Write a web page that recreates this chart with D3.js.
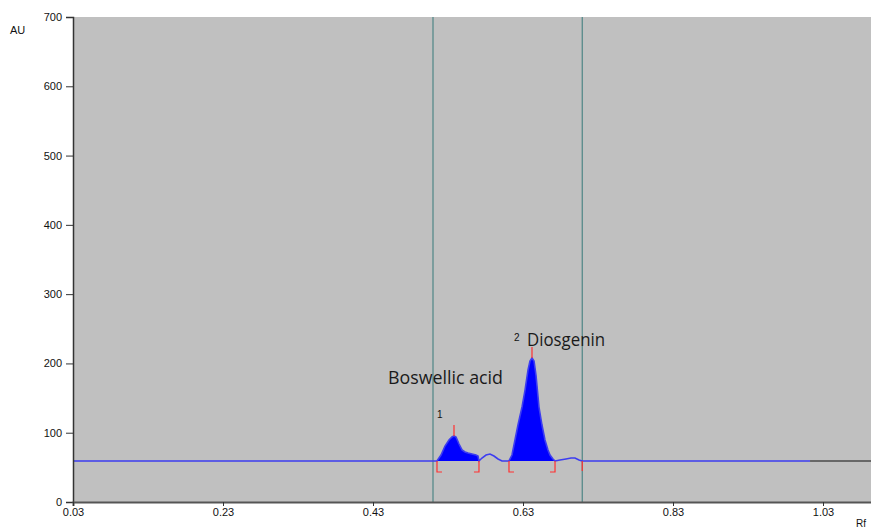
<!DOCTYPE html>
<html>
<head>
<meta charset="utf-8">
<script src="https://cdn.jsdelivr.net/npm/d3@7"></script>
<style>
  body { margin: 0; background: #fff; }
  svg { display: block; }
</style>
</head>
<body>
<div id="chart"></div>
<script>
// densitogram trace (Rf, AU)
const traceRf = [0.03, 0.5153, 0.5207, 0.526, 0.5313, 0.5353, 0.538, 0.5407, 0.5447, 0.5487, 0.5527, 0.5567, 0.562, 0.5673, 0.57, 0.5713,
  0.5753, 0.5807, 0.586, 0.5913, 0.5967, 0.602, 0.6113, 0.6153, 0.6193, 0.6233, 0.6287, 0.6327, 0.6367, 0.6393, 0.642, 0.6447,
  0.6473, 0.6513, 0.6553, 0.6593, 0.6633, 0.666, 0.67, 0.6727, 0.6793, 0.6873, 0.694, 0.6993, 0.7047, 0.7087, 1.0127];
const traceAU = [59.2, 59.2, 67.8, 80.8, 89.5, 93.8, 95.3, 93.8, 83.7, 75.1, 72.2, 70.7, 69.3, 67.8, 66.4, 59.2,
  63.5, 67.8, 69.3, 66.4, 62.1, 59.2, 59.2, 67.8, 89.5, 111.1, 137.1, 161.6, 190.5, 203.5, 207.8, 203.5,
  183.3, 137.1, 111.1, 89.5, 75.1, 67.8, 62.1, 59.2, 60.6, 62.1, 63.5, 63.5, 60.6, 59.2, 59.2];
const baseAU = 59.2;
const tailEnd = 1.10;

// integrated peaks
const peakIds = [1, 2];
const peakStart = [0.5153, 0.6113];
const peakApex = [0.538, 0.642];
const peakEnd = [0.5713, 0.6727];
const peakApexAU = [95.3, 207.8];
const peakNames = ['Boswellic acid', 'Diosgenin'];

// track window
const trackLines = [0.51, 0.709];

const xTicks = [0.03, 0.23, 0.43, 0.63, 0.83, 1.03];
const yTicks = [0, 100, 200, 300, 400, 500, 600, 700];

const W = 871, H = 528;
const margin = { top: 17, right: 0, bottom: 26, left: 73 };

const svg = d3.select('#chart').append('svg')
  .attr('width', W)
  .attr('height', H);

const x = d3.scaleLinear().domain([0.03, 0.03 + (W + 5 - margin.left) / 750]).range([margin.left, W + 5]);
const y = d3.scaleLinear().domain([0, 700]).range([H - margin.bottom, margin.top]);

svg.append('rect')
  .attr('x', margin.left)
  .attr('y', margin.top)
  .attr('width', W - margin.left)
  .attr('height', y(0) - margin.top)
  .attr('fill', '#c0c0c0');

const data = traceRf.map((r, i) => ({ rf: r, au: traceAU[i] }));

// filled peak areas
const area = d3.area()
  .x(d => x(d.rf))
  .y0(y(baseAU))
  .y1(d => y(d.au));

peakStart.forEach((s, i) => {
  const seg = data.filter(d => d.rf >= s - 1e-6 && d.rf <= peakEnd[i] + 1e-6);
  svg.append('path')
    .datum(seg)
    .attr('fill', '#0000ff')
    .attr('d', area);
});

// track boundaries
svg.selectAll('.track')
  .data(trackLines)
  .enter()
  .append('line')
  .attr('x1', d => x(d)).attr('x2', d => x(d))
  .attr('y1', margin.top).attr('y2', y(0))
  .attr('stroke', '#4d8585')
  .attr('stroke-width', 1.2);

const line = d3.line()
  .x(d => x(d.rf))
  .y(d => y(d.au));

svg.append('path')
  .datum(data)
  .attr('fill', 'none')
  .attr('stroke', '#3d3df0')
  .attr('stroke-width', 1.6)
  .attr('d', line);

svg.append('line')
  .attr('x1', x(traceRf[traceRf.length - 1])).attr('x2', x(tailEnd))
  .attr('y1', y(baseAU)).attr('y2', y(baseAU))
  .attr('stroke', '#4a4a4a')
  .attr('stroke-width', 1.6);

// red integration markers
const red = '#ff3030';
peakApex.forEach((a, i) => {
  svg.append('line')
    .attr('x1', x(a)).attr('x2', x(a))
    .attr('y1', y(peakApexAU[i]) - 11).attr('y2', y(peakApexAU[i]))
    .attr('stroke', red).attr('stroke-width', 1.2);
});
const by = y(baseAU);
peakStart.forEach(s => {
  svg.append('path')
    .attr('d', `M${x(s)},${by}V${by + 11}H${x(s) + 5}`)
    .attr('fill', 'none').attr('stroke', red).attr('stroke-width', 1.2);
});
peakEnd.forEach(e => {
  svg.append('path')
    .attr('d', `M${x(e) - 5},${by + 11}H${x(e)}V${by}`)
    .attr('fill', 'none').attr('stroke', red).attr('stroke-width', 1.2);
});
svg.append('line')
  .attr('x1', x(trackLines[1])).attr('x2', x(trackLines[1]))
  .attr('y1', by).attr('y2', by + 10)
  .attr('stroke', red).attr('stroke-width', 1.2);

// peak numbers and names
svg.append('text')
  .attr('x', x(peakStart[0]))
  .attr('y', y(peakApexAU[0]) - 18)
  .attr('font-family', 'Liberation Sans, Arial, sans-serif')
  .attr('font-size', 10)
  .attr('fill', '#111')
  .text(peakIds[0]);

svg.append('text')
  .attr('x', 388)
  .attr('y', 384)
  .attr('font-family', 'Open Sans, sans-serif')
  .attr('font-size', 17.5)
  .attr('textLength', 115)
  .attr('lengthAdjust', 'spacingAndGlyphs')
  .attr('fill', '#1a1a1a')
  .text(peakNames[0]);

svg.append('text')
  .attr('x', 514)
  .attr('y', 341)
  .attr('font-family', 'Liberation Sans, Arial, sans-serif')
  .attr('font-size', 10)
  .attr('fill', '#111')
  .text(peakIds[1]);

svg.append('text')
  .attr('x', 527)
  .attr('y', 346)
  .attr('font-family', 'Open Sans, sans-serif')
  .attr('font-size', 17.5)
  .attr('textLength', 78)
  .attr('lengthAdjust', 'spacingAndGlyphs')
  .attr('fill', '#1a1a1a')
  .text(peakNames[1]);

// axes
const yAxis = svg.append('g')
  .attr('transform', `translate(${margin.left},0)`)
  .call(d3.axisLeft(y).tickValues(yTicks).tickSize(7).tickPadding(4));
yAxis.select('.domain').attr('stroke', '#333').attr('stroke-width', 1.5);
yAxis.selectAll('.tick line').attr('stroke', '#333');
yAxis.selectAll('text')
  .attr('font-family', 'Liberation Sans, Arial, sans-serif')
  .attr('font-size', 11)
  .attr('fill', '#111');

const xAxis = svg.append('g')
  .attr('transform', `translate(0,${y(0)})`)
  .call(d3.axisBottom(x).tickValues(xTicks).tickFormat(d3.format('.2f')).tickSize(4).tickPadding(2));
xAxis.select('.domain').attr('stroke', '#555').attr('stroke-width', 2);
xAxis.selectAll('.tick line').attr('stroke', '#333');
xAxis.selectAll('text')
  .attr('font-family', 'Liberation Sans, Arial, sans-serif')
  .attr('font-size', 11)
  .attr('fill', '#111');

svg.append('text')
  .attr('x', 10).attr('y', 34)
  .attr('font-family', 'Liberation Sans, Arial, sans-serif')
  .attr('font-size', 11)
  .attr('fill', '#111')
  .text('AU');

svg.append('text')
  .attr('x', 856).attr('y', 527)
  .attr('font-family', 'Liberation Sans, Arial, sans-serif')
  .attr('font-size', 10)
  .attr('fill', '#111')
  .text('Rf');
</script>
</body>
</html>
